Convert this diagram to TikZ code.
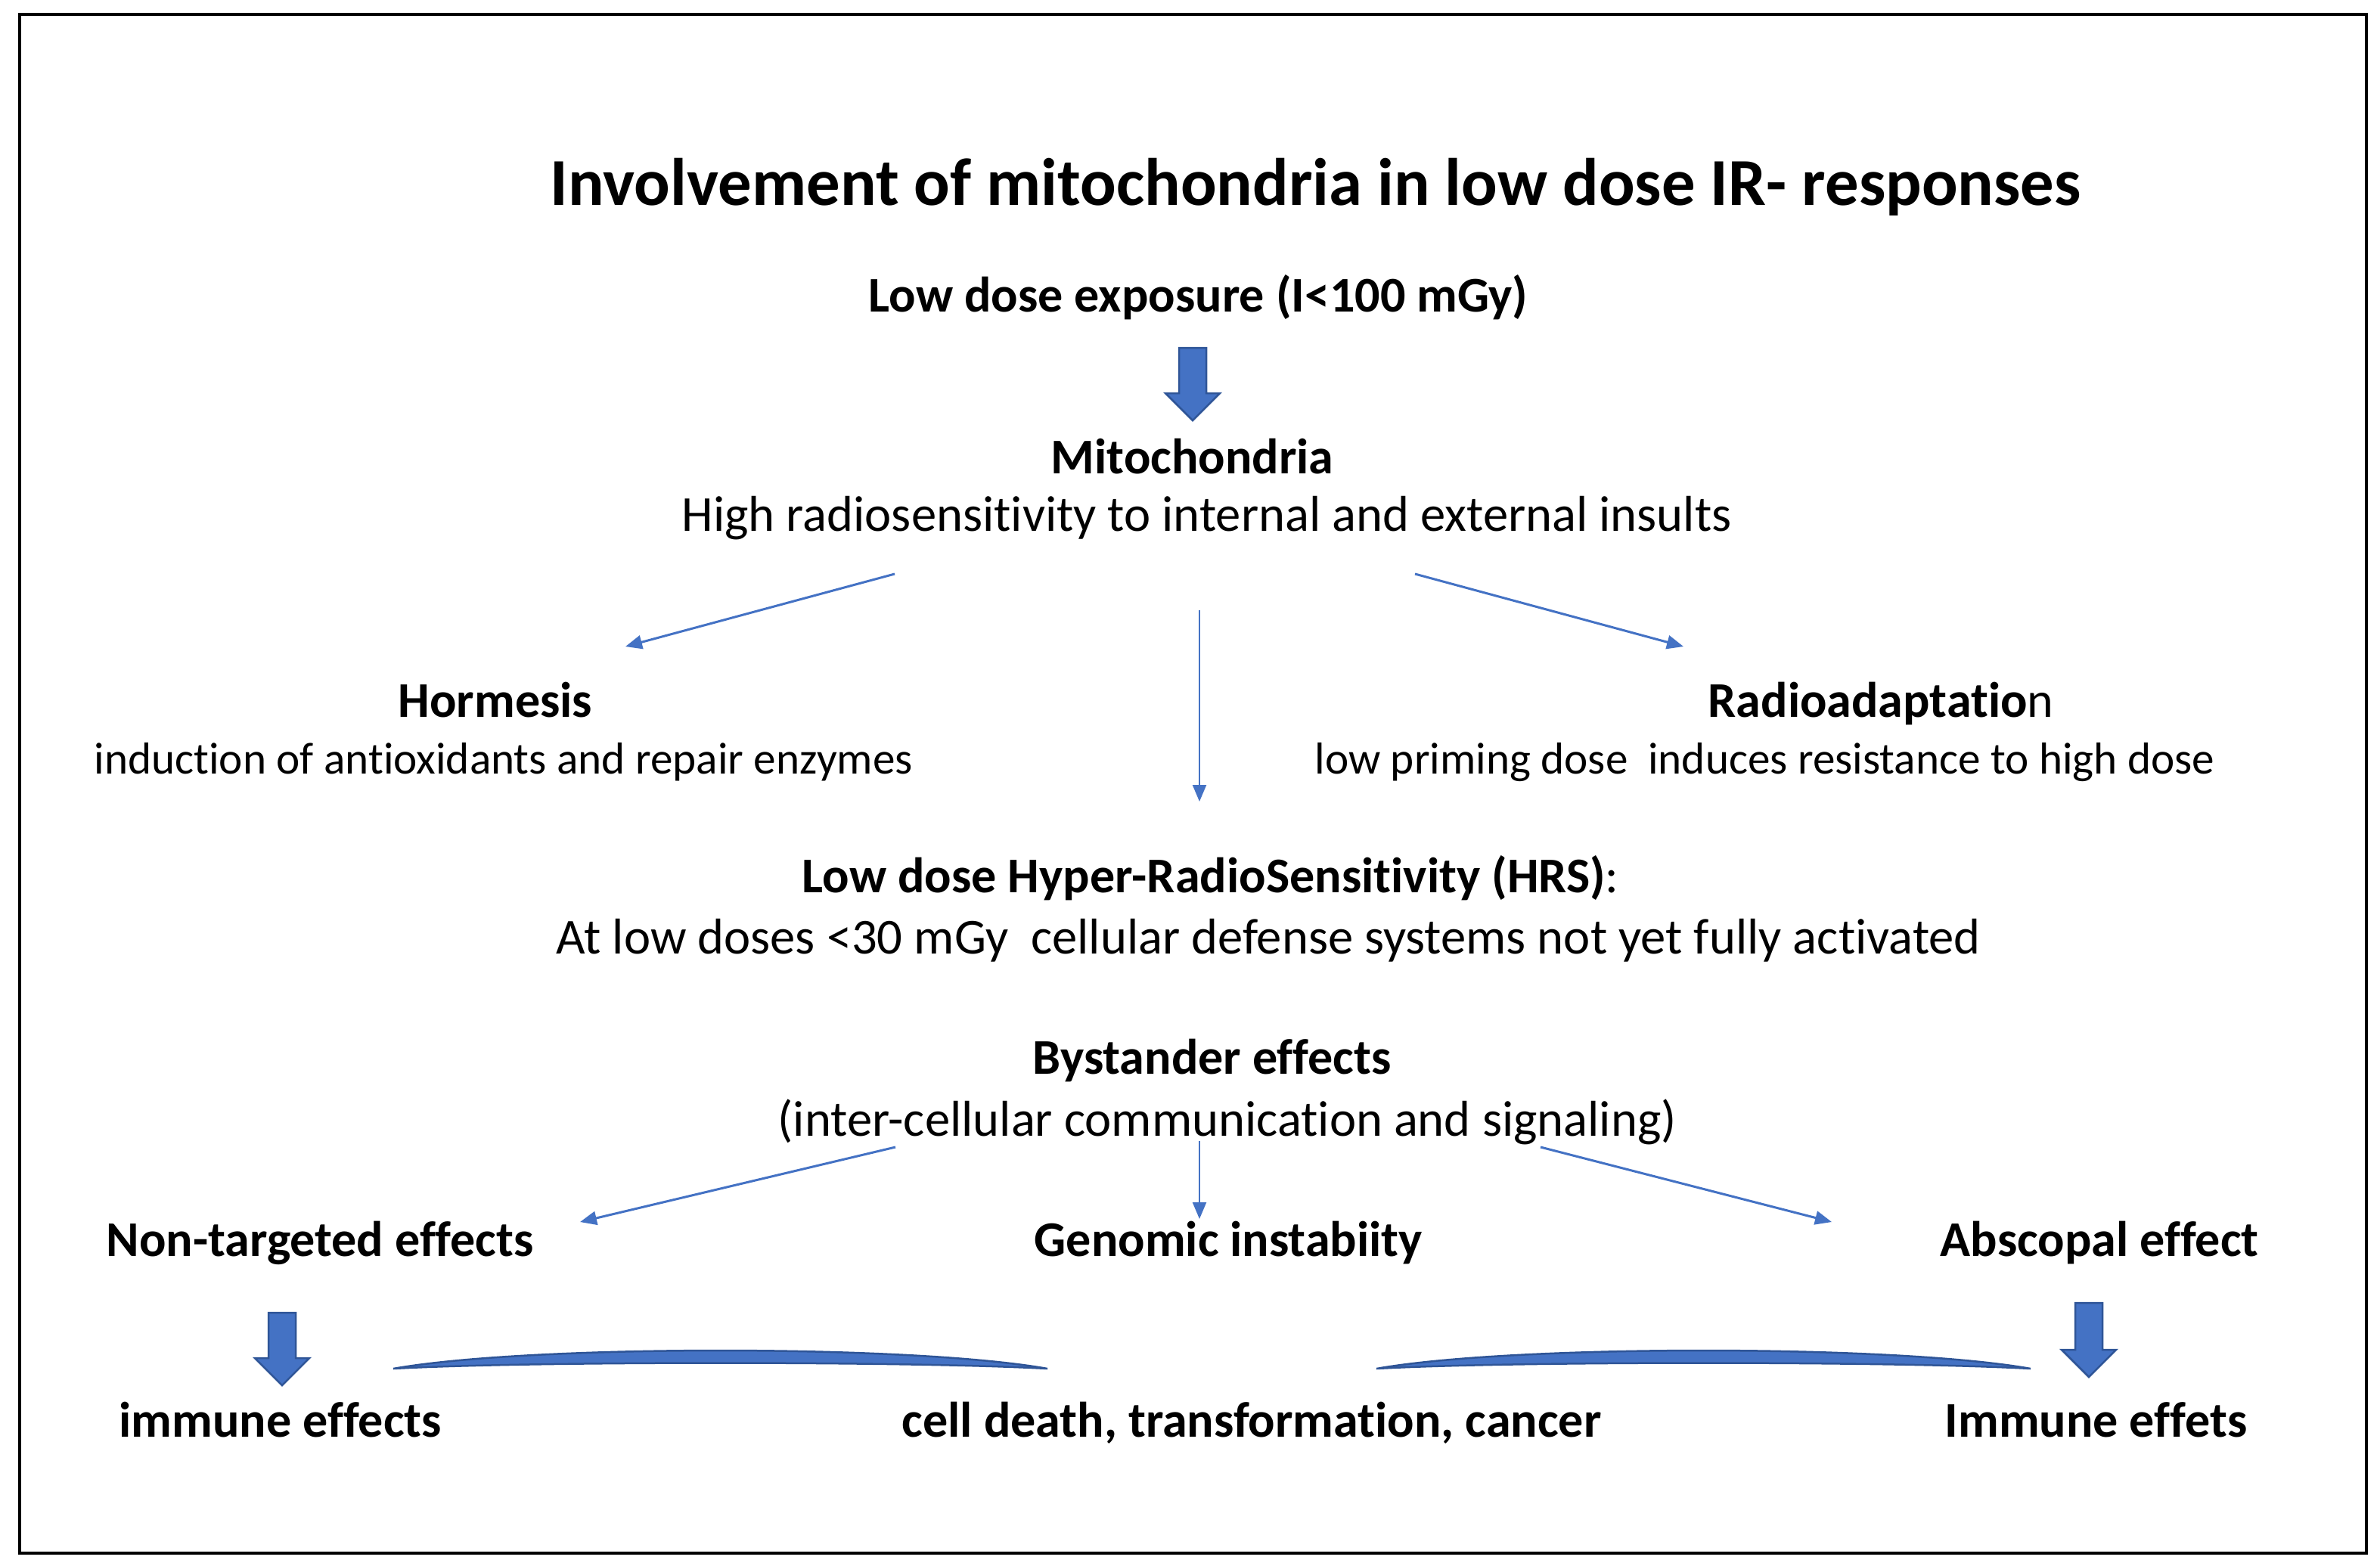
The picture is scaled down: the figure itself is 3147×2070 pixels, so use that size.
\documentclass[tikz,border=0pt]{standalone}
\usepackage{fontspec}
\setmainfont{Carlito}[Ligatures=NoCommon]
\usepackage{tikz}
\usetikzlibrary{arrows.meta}
\definecolor{officeblue}{HTML}{4472C4}
\definecolor{officeedge}{HTML}{2F5597}

\begin{document}
\begin{tikzpicture}[x=0.1mm, y=-0.1mm,
      txt/.style={inner sep=0pt, anchor=base west, font=\fontsize{18.95pt}{22pt}\selectfont},
      small/.style={txt, font=\fontsize{16.85pt}{20pt}\selectfont},
      bold/.style={txt, font=\fontsize{18.8pt}{22pt}\selectfont\bfseries},
      heading/.style={txt, font=\fontsize{25.25pt}{30pt}\selectfont\bfseries},
      link/.style={officeblue, line width=0.3mm, -{Triangle[length=2.2mm,width=1.8mm]}},
      blockarr/.style={fill=officeblue, draw=officeedge, line width=0.25mm}]
      \useasboundingbox (0,0) rectangle (3147,2070);
      \draw[line width=0.4mm] (26,19) rectangle (3129,2054);
      % texts
      \node[heading] (title) at (727,271) {Involvement of mitochondria in low dose IR- responses};
      \node[bold] (lowdose) at (1148,412) {Low dose exposure (I<100 mGy)};
      \node[bold] (mito) at (1389,626) {Mitochondria};
      \node[txt] (mitotxt) at (901,702) {High radiosensitivity to internal and external insults};
      \node[bold] (hormesis) at (526,948) {Hormesis};
      \node[small] (hormtxt) at (124,1023) {induction of antioxidants and repair enzymes};
      \node[txt, font=\fontsize{18.8pt}{22pt}\selectfont] (radio) at (2258,948) {\textbf{Radioadaptatio}n};
      \node[small] (radiotxt) at (1738,1023) {low priming dose\ \ induces resistance to high dose};
      \node[txt, font=\fontsize{18.8pt}{22pt}\selectfont] (hrs) at (1060,1180) {\textbf{Low dose Hyper-RadioSensitivity (HRS)}:};
      \node[txt] (hrstxt) at (735,1261) {At low doses <30 mGy\ \ cellular defense systems not yet fully activated};
      \node[bold] (bystander) at (1365,1420) {Bystander effects};
      \node[txt] (bystxt) at (1028,1502) {(inter-cellular communication and signaling)};
      \node[bold] (nontarget) at (140,1661) {Non-targeted effects};
      \node[bold] (genomic) at (1367,1661) {Genomic instabiity};
      \node[bold] (abscopal) at (2565,1661) {Abscopal effect};
      \node[bold] (immuneL) at (157,1900) {immune effects};
      \node[bold] (death) at (1192,1900) {cell death, transformation, cancer};
      \node[bold] (immuneR) at (2571,1900) {Immune effets};
      % thin arrows
      \coordinate (m1) at (1183,759);  \coordinate (m2) at (1586,807);  \coordinate (m3) at (1871,759);
      \coordinate (h1) at (827,855);   \coordinate (h2) at (1586,1060); \coordinate (h3) at (2226,855);
      \coordinate (b1) at (1184,1517); \coordinate (b2) at (1586,1509); \coordinate (b3) at (2037,1517);
      \coordinate (e1) at (767,1616);  \coordinate (e2) at (1586,1612); \coordinate (e3) at (2422,1616);
      \draw[link] (m1) -- (h1);
      \draw[link, line width=0.22mm] (m2) -- (h2);
      \draw[link] (m3) -- (h3);
      \draw[link] (b1) -- (e1);
      \draw[link, line width=0.22mm] (b2) -- (e2);
      \draw[link] (b3) -- (e3);
      % block arrows
      \foreach \x/\t/\b in {1577/460/556, 373/1736/1832, 2762/1723/1821}
        \filldraw[blockarr] ({\x-18},\t) -- ({\x+18},\t) -- ({\x+18},{\b-36}) -- ({\x+36},{\b-36})
          -- (\x,\b) -- ({\x-36},{\b-36}) -- ({\x-18},{\b-36}) -- cycle;
      % crescents
      \foreach \l/\r in {520/1385, 1820/2685}
        \filldraw[blockarr] (\l,1810) .. controls ({\l+180},1778) and ({\r-180},1778) .. (\r,1810)
          .. controls ({\r-180},1800) and ({\l+180},1800) .. cycle;
\end{tikzpicture}
\end{document}
